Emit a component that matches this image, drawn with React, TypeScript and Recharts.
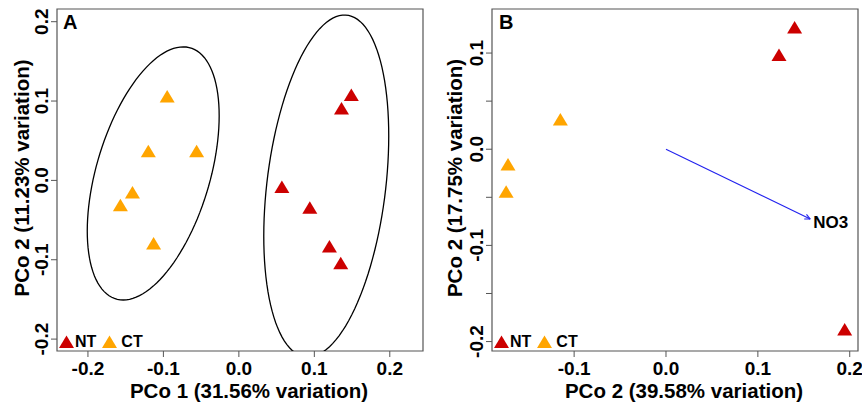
import React from "react";
import {
  ScatterChart,
  Scatter,
  XAxis,
  YAxis,
  ReferenceArea,
  ReferenceLine,
  ReferenceDot,
  Legend,
  Customized,
} from "recharts";

const FONT = '"Liberation Sans", Arial, sans-serif';
const NT_COLOR = "#CC0000";
const CT_COLOR = "#FFA500";
const BOX = "#555555";

// panel A: PCo 1 vs PCo 2
const aNtX = [0.149, 0.136, 0.057, 0.094, 0.12, 0.135];
const aNtY = [0.107, 0.09, -0.009, -0.035, -0.084, -0.105];
const aCtX = [-0.095, -0.12, -0.056, -0.141, -0.157, -0.113];
const aCtY = [0.105, 0.036, 0.036, -0.016, -0.032, -0.08];
const aXTicks = [-0.2, -0.1, 0, 0.1, 0.2];
const aYTicks = [-0.2, -0.1, 0, 0.1, 0.2];

// group ellipses (centre, half extents, correlation)
const ctEllipse = { cx: -0.1135, cy: 0.0088, hx: 0.0874, hy: 0.1595, r: 0.455 };
const ntEllipse = { cx: 0.1158, cy: -0.0071, hx: 0.0828, hy: 0.2155, r: 0.293 };

// panel B: dbRDA with NO3 vector
const bNtX = [0.14, 0.123, 0.1945];
const bNtY = [0.126, 0.0975, -0.188];
const bCtX = [-0.115, -0.172, -0.174];
const bCtY = [0.0305, -0.0164, -0.0448];
const bXTicks = [-0.1, 0, 0.1, 0.2];
const bYTicks = [-0.2, -0.15, -0.1, -0.05, 0, 0.05, 0.1];
const vectorEnd = { x: 0.157, y: -0.0726 };
const vectorName = "NO3";

const toPoints = (xs: number[], ys: number[]) => xs.map((x, i) => ({ x, y: ys[i] }));

const ellipsePoints = (e: typeof ctEllipse) => {
  const out: { x: number; y: number }[] = [];
  const s = Math.sqrt(1 - e.r * e.r);
  for (let i = 0; i <= 120; i++) {
    const t = (i / 120) * Math.PI * 2;
    out.push({ x: e.cx + e.hx * Math.cos(t), y: e.cy + e.hy * (e.r * Math.cos(t) + s * Math.sin(t)) });
  }
  return out;
};

const fmt = (v: number) => {
  if (Math.abs(v * 10 - Math.round(v * 10)) > 1e-6) return "";
  return v.toFixed(1);
};

const triangle = (color: string) => (p: any) => (
  <polygon
    points={`${p.cx},${p.cy - 7} ${p.cx - 7.5},${p.cy + 5.5} ${p.cx + 7.5},${p.cy + 5.5}`}
    fill={color}
  />
);

const noShape = () => <g />;

const XTick = (p: any) => (
  <text x={p.x} y={p.y + 9} textAnchor="middle" dominantBaseline="central" fontFamily={FONT} fontWeight="bold" fontSize={19} fill="#000">
    {fmt(p.payload.value)}
  </text>
);

const YTick = (p: any) => {
  const x = p.x - 7;
  return (
    <text x={x} y={p.y} transform={`rotate(-90, ${x}, ${p.y})`} textAnchor="middle" dominantBaseline="central" fontFamily={FONT} fontWeight="bold" fontSize={19} fill="#000">
      {fmt(p.payload.value)}
    </text>
  );
};

const XTitle = ({ viewBox, text }: any) => {
  const x = viewBox.x + viewBox.width / 2 + 9;
  return (
    <text x={x} y={viewBox.y + 39.5} textAnchor="middle" dominantBaseline="central" fontFamily={FONT} fontWeight="bold" fontSize={20.5} fill="#000">
      {text}
    </text>
  );
};

const YTitle = ({ viewBox, text, dx }: any) => {
  const x = viewBox.x + dx;
  const y = viewBox.y + viewBox.height / 2 - 2;
  return (
    <text x={x} y={y} transform={`rotate(-90, ${x}, ${y})`} textAnchor="middle" dominantBaseline="central" fontFamily={FONT} fontWeight="bold" fontSize={20.5} fill="#000">
      {text}
    </text>
  );
};

const LegendBox = () => (
  <div style={{ display: "flex", alignItems: "center", fontFamily: FONT, fontWeight: "bold", fontSize: 16, lineHeight: "18px", color: "#000" }}>
    <svg width={15} height={14}>
      <polygon points="7.5,0.5 0,13 15,13" fill={NT_COLOR} />
    </svg>
    <span style={{ marginLeft: 1 }}>NT</span>
    <svg width={15} height={14} style={{ marginLeft: 6 }}>
      <polygon points="7.5,0.5 0,13 15,13" fill={CT_COLOR} />
    </svg>
    <span style={{ marginLeft: 4 }}>CT</span>
  </div>
);

const Arrow = (p: any) => {
  const ang = Math.atan2(p.y2 - p.y1, p.x2 - p.x1);
  const len = 6;
  const a1 = ang + Math.PI - 0.45;
  const a2 = ang + Math.PI + 0.45;
  return (
    <g stroke="#2222EE" strokeWidth={1.1} fill="none">
      <line x1={p.x1} y1={p.y1} x2={p.x2} y2={p.y2} />
      <line x1={p.x2} y1={p.y2} x2={p.x2 + len * Math.cos(a1)} y2={p.y2 + len * Math.sin(a1)} />
      <line x1={p.x2} y1={p.y2} x2={p.x2 + len * Math.cos(a2)} y2={p.y2 + len * Math.sin(a2)} />
    </g>
  );
};

const VectorLabel = (p: any) => (
  <text x={p.cx + 3} y={p.cy + 3} dominantBaseline="central" fontFamily={FONT} fontWeight="bold" fontSize={17} fill="#000">
    {vectorName}
  </text>
);

const PanelLetter = ({ letter, x }: { letter: string; x: number }) => (
  <text x={x} y={29} fontFamily={FONT} fontWeight="bold" fontSize={20} fill="#000">
    {letter}
  </text>
);

function PanelA() {
  const xDom: [number, number] = [-0.241, 0.244];
  const yDom: [number, number] = [-0.215, 0.216];
  return (
    <ScatterChart width={430} height={402} margin={{ top: 9, right: 7, bottom: 0, left: 0 }}>
      <XAxis
        type="number"
        dataKey="x"
        domain={xDom}
        ticks={aXTicks}
        allowDataOverflow
        height={51}
        tickSize={6}
        axisLine={false}
        tickLine={{ stroke: BOX }}
        tick={<XTick />}
        label={<XTitle text="PCo 1 (31.56% variation)" />}
      />
      <YAxis
        type="number"
        dataKey="y"
        domain={yDom}
        ticks={aYTicks}
        allowDataOverflow
        width={57}
        tickSize={6}
        axisLine={false}
        tickLine={{ stroke: BOX }}
        tick={<YTick />}
        label={<YTitle text="PCo 2 (11.23% variation)" dx={21} />}
      />
      <ReferenceArea x1={xDom[0]} x2={xDom[1]} y1={yDom[0]} y2={yDom[1]} fill="none" stroke={BOX} strokeWidth={1.2} />
      <Scatter data={ellipsePoints(ctEllipse)} line={{ stroke: "#000", strokeWidth: 1.3 }} shape={noShape} isAnimationActive={false} legendType="none" />
      <Scatter data={ellipsePoints(ntEllipse)} line={{ stroke: "#000", strokeWidth: 1.3 }} shape={noShape} isAnimationActive={false} legendType="none" />
      <Scatter name="CT" data={toPoints(aCtX, aCtY)} shape={triangle(CT_COLOR)} isAnimationActive={false} />
      <Scatter name="NT" data={toPoints(aNtX, aNtY)} shape={triangle(NT_COLOR)} isAnimationActive={false} />
      <Legend layout="horizontal" verticalAlign="middle" align="center" content={<LegendBox />} wrapperStyle={{ left: 59, top: 333, width: "auto" }} />
      <Customized component={<PanelLetter letter="A" x={63} />} />
    </ScatterChart>
  );
}

function PanelB() {
  const xDom: [number, number] = [-0.1894, 0.209];
  const yDom: [number, number] = [-0.2098, 0.1458];
  return (
    <ScatterChart width={432} height={402} margin={{ top: 9, right: 4, bottom: 0, left: 0 }}>
      <XAxis
        type="number"
        dataKey="x"
        domain={xDom}
        ticks={bXTicks}
        allowDataOverflow
        height={51}
        tickSize={6}
        axisLine={false}
        tickLine={{ stroke: BOX }}
        tick={<XTick />}
        label={<XTitle text="PCo 2 (39.58% variation)" />}
      />
      <YAxis
        type="number"
        dataKey="y"
        domain={yDom}
        ticks={bYTicks}
        allowDataOverflow
        width={62}
        tickSize={6}
        axisLine={false}
        tickLine={{ stroke: BOX }}
        tick={<YTick />}
        label={<YTitle text="PCo 2 (17.75% variation)" dx={24} />}
      />
      <ReferenceArea x1={xDom[0]} x2={xDom[1]} y1={yDom[0]} y2={yDom[1]} fill="none" stroke={BOX} strokeWidth={1.2} />
      <ReferenceLine segment={[{ x: 0, y: 0 }, vectorEnd]} shape={Arrow} />
      <ReferenceDot x={vectorEnd.x} y={vectorEnd.y} r={0} shape={VectorLabel} />
      <Scatter name="CT" data={toPoints(bCtX, bCtY)} shape={triangle(CT_COLOR)} isAnimationActive={false} />
      <Scatter name="NT" data={toPoints(bNtX, bNtY)} shape={triangle(NT_COLOR)} isAnimationActive={false} />
      <Legend layout="horizontal" verticalAlign="middle" align="center" content={<LegendBox />} wrapperStyle={{ left: 64, top: 333, width: "auto" }} />
      <Customized component={<PanelLetter letter="B" x={69} />} />
    </ScatterChart>
  );
}

export default function App() {
  return (
    <div style={{ position: "absolute", left: 0, top: 0, width: 862, height: 402, background: "#fff" }}>
      <div style={{ position: "absolute", left: 0, top: 0 }}>
        <PanelA />
      </div>
      <div style={{ position: "absolute", left: 430, top: 0 }}>
        <PanelB />
      </div>
    </div>
  );
}
